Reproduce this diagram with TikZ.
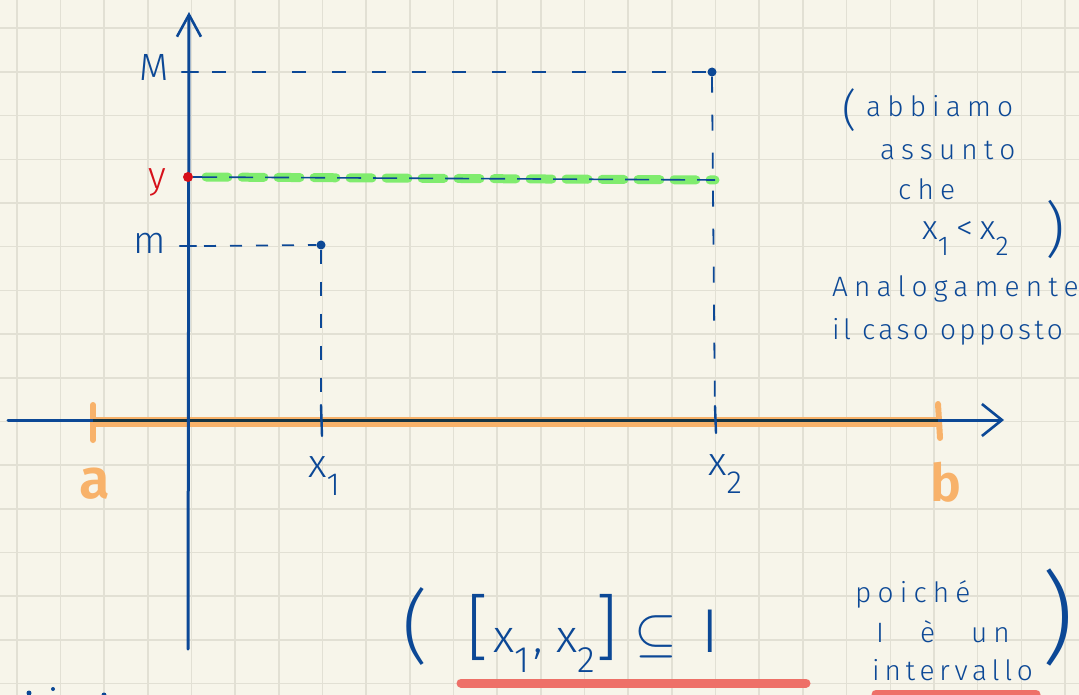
\documentclass[tikz,border=0pt]{standalone}
\usepackage{fontspec}
\setmainfont{Fira Sans Light}
\usetikzlibrary{arrows.meta,calc}
\definecolor{paper}{RGB}{247,245,234}
\definecolor{gridc}{RGB}{226,224,212}
\definecolor{inkblue}{RGB}{12,72,150}
\definecolor{inkred}{RGB}{214,16,26}
\definecolor{hlgreen}{RGB}{128,236,110}
\definecolor{hlorange}{RGB}{248,178,106}
\definecolor{hlred}{RGB}{238,112,104}
\definecolor{darkaxis}{RGB}{22,52,66}
\newcommand{\lowidx}[1]{\raisebox{-0.45em}{\fontsize{0.8em}{1em}\selectfont #1}}
\begin{document}
\begin{tikzpicture}[x=1pt,y=-1pt,
  ink/.style={draw=inkblue,line width=2.4pt,line cap=round},
  axisline/.style={draw=inkblue,line width=3pt,line cap=round},
  dashline/.style={draw=inkblue,line width=1.8pt,dash pattern=on 14pt off 26pt},
  hand/.style={text=inkblue,inner sep=0pt,font=\fontsize{28}{30}\selectfont\addfontfeature{LetterSpace=22}},
  bighand/.style={text=inkblue,inner sep=0pt,font=\fontsize{40}{44}\selectfont\addfontfeature{LetterSpace=18}},
  formula/.style={text=inkblue,inner sep=0pt,font=\fontsize{46}{50}\selectfont\addfontfeature{LetterSpace=20}},
  dot/.style={circle,fill=inkblue,inner sep=0pt,minimum size=9pt}]
\useasboundingbox (0,0) rectangle (1079,695);
\fill[paper] (0,0) rectangle (1079,695);
\foreach \i in {0,...,24} \draw[gridc,line width=1.6pt] ({16.7+43.68*\i},0) -- ({16.7+43.68*\i},695);
\foreach \j in {0,...,15} \draw[gridc,line width=1.6pt] (0,{28.3+43.68*\j}) -- (1079,{28.3+43.68*\j});

% coordinates
\coordinate (ybot) at (188,649);
\coordinate (ytop) at (189,12);
\coordinate (xleft) at (8,420);
\coordinate (xright) at (1004,420);
\coordinate (A) at (93,422);
\coordinate (B) at (938,422);
\coordinate (X1) at (321,420);
\coordinate (X2) at (715,420);
\coordinate (MT) at (188,72);
\coordinate (mT) at (188,246);

% orange interval
\draw[hlorange,line width=10pt] (A) -- (B);
\draw[hlorange,line width=6pt,line cap=round] (93,405) -- (93,440);
\draw[hlorange,line width=6pt,line cap=round] (938,404) -- (940,438);
\node[text=hlorange,inner sep=0pt,font=\fontsize{56}{60}\selectfont\bfseries] (la) at (95,484) {a};
\node[text=hlorange,inner sep=0pt,font=\fontsize{52}{56}\selectfont\bfseries] (lb) at (946,482) {b};

% axes
\draw[axisline,-{Straight Barb[length=20pt,width=32pt,line width=2.6pt]}] (xleft) -- (xright);
\draw[draw=darkaxis,line width=3pt] ($(A)+(0,-2)$) -- ($(B)+(0,-2)$);
\draw[axisline,-{Straight Barb[length=22pt,width=24pt,line width=2.6pt]}] (ybot) -- (ytop);

% x ticks
\draw[ink] (321,405) -- (322,436);
\draw[ink] (715,406) -- (716,433);
\node[bighand,anchor=base west] (lx1) at (308,477) {x\lowidx{1}};
\node[bighand,anchor=base west] (lx2) at (708,475) {x\lowidx{2}};

% M level
\draw[ink] (182,72) -- (198,72);
\node[text=inkblue,inner sep=0pt,font=\fontsize{38}{40}\selectfont] (lM) at (154,67) {M};
\node[dot] (PM) at (712,72) {};
\draw[dashline,dash phase=-8pt] ($(MT)+(16,0)$) -- (PM.west);
\draw[dashline,dash pattern=on 16pt off 22pt] (PM.south) -- (X2);

% m level
\draw[ink] (180,246) -- (196,246);
\node[text=inkblue,inner sep=0pt,font=\fontsize{38}{40}\selectfont] (lm) at (150,243) {m};
\node[dot] (Pm) at (321,245) {};
\draw[dashline,dash pattern=on 12pt off 14pt] ($(mT)+(16,0)$) -- (Pm.west);
\draw[dashline,dash pattern=on 14pt off 18pt] (Pm.south) -- (X1);

% y level
\node[circle,fill=inkred,inner sep=0pt,minimum size=10pt] (Py) at (188,177) {};
\node[text=inkred,inner sep=0pt,font=\fontsize{38}{40}\selectfont] (ly) at (157,182) {y};
\coordinate (Gy) at (715,180);
\draw[hlgreen,line width=9pt,line cap=round,dash pattern=on 22pt off 14pt] (206,177) -- (Gy);
\draw[inkblue,line width=1.6pt,dash pattern=on 24pt off 12pt] (Py.east) -- (Gy);

% note on the right
\node[text=inkblue,inner sep=0pt,font=\fontsize{44}{48}\selectfont] (p1) at (850,110) {(};
\node[hand,anchor=base west] (n1) at (866,117) {abbiamo};
\node[hand,anchor=base west] (n2) at (880,160) {assunto};
\node[hand,anchor=base west] (n3) at (898,200) {che};
\node[hand,anchor=base west,font=\fontsize{34}{36}\selectfont] (n4) at (922,240) {x\lowidx{1}\hspace{7pt}<\hspace{7pt}x\lowidx{2}};
\node[text=inkblue,inner sep=0pt,font=\fontsize{60}{64}\selectfont] (p2) at (1055,230) {)};
\node[hand,anchor=base west] (n5) at (832,296) {Analogamente};
\node[hand,anchor=base west,font=\fontsize{28}{30}\selectfont\addfontfeature{LetterSpace=12}] (n6) at (832,339) {il caso opposto};

% bottom formula
\node[text=inkblue,inner sep=0pt,font=\fontsize{80}{84}\selectfont] (p3) at (415,626) {(};
\node[formula,anchor=base west] (f1) at (466,652) {{\fontsize{72}{72}\selectfont[}\hspace{4pt}x\lowidx{1}\hspace{4pt},\hspace{14pt}x\lowidx{2}{\fontsize{72}{72}\selectfont]}\hspace{16pt}\raisebox{2pt}{\scalebox{2.2}{$\subseteq$}}\hspace{24pt}{\fontsize{62}{62}\selectfont I}};
\draw[hlred,line width=9pt,line cap=round] (461,683) -- (806,683);
\node[hand,anchor=base west] (q1) at (855,602) {poiché};
\node[hand,anchor=base west] (q2) at (876,642) {I\hspace{36pt}è\hspace{36pt}un};
\node[hand,anchor=base west,font=\fontsize{28}{30}\selectfont\addfontfeature{LetterSpace=17}] (q3) at (872,680) {intervallo};
\draw[hlred,line width=9pt,line cap=round] (876,694) -- (1036,694);
\node[text=inkblue,inner sep=0pt,font=\fontsize{100}{104}\selectfont] (p4) at (1058,617) {)};

% cut-off marks
\fill[inkblue] (29,693) circle (2.5pt) (53,689) circle (2pt) (104,695) circle (2.5pt);
\end{tikzpicture}
\end{document}
